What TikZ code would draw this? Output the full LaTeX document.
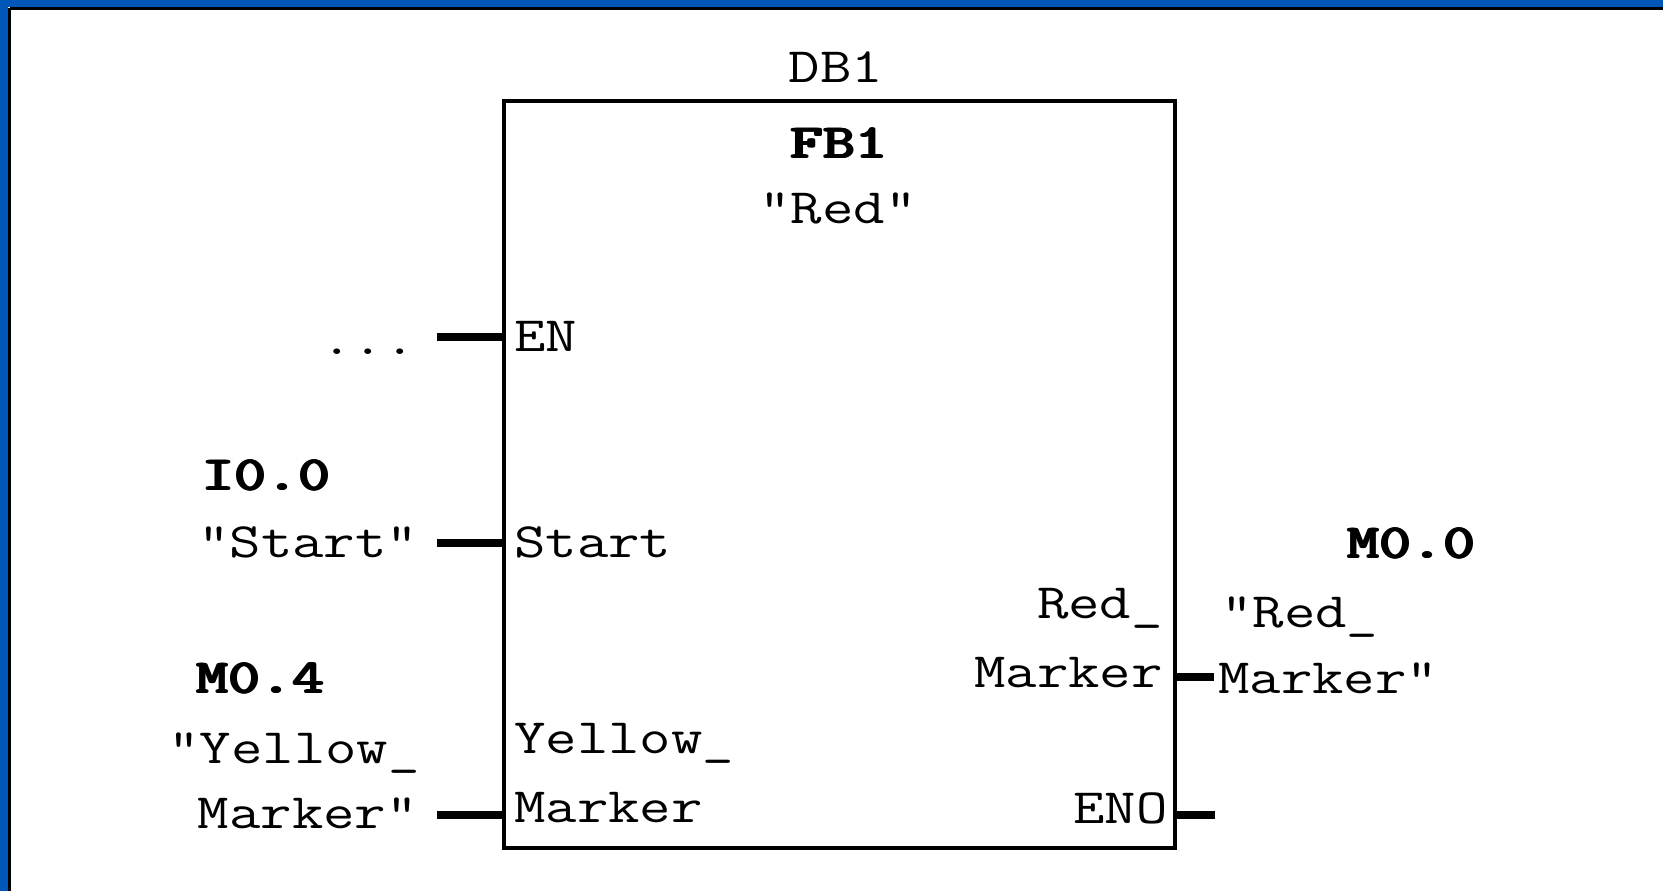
\documentclass[tikz,border=0pt]{standalone}
\usepackage{graphicx}
\definecolor{frameblue}{HTML}{0057B8}
\newcommand{\squash}[1]{\scalebox{1}[0.81]{#1}}
\newcommand{\heavy}[1]{\squash{\rlap{\hspace{1.3pt}#1}\rlap{\hspace{2.6pt}#1}#1}}
\begin{document}
\begin{tikzpicture}[x=1pt,y=-1pt,
  lbl/.style={inner sep=0pt, font=\fontsize{61}{70}\selectfont\ttfamily},
  blbl/.style={inner sep=0pt, font=\fontsize{61}{70}\selectfont\ttfamily\bfseries},
  pinline/.style={line width=7.5pt},
  fbbox/.style={draw, line width=3.5pt, inner sep=0pt}]
\useasboundingbox (0,0) rectangle (1663,891);
\fill[white] (0,0) rectangle (1663,891);
% slide frame (top and left)
\fill[frameblue] (0,0) rectangle (1663,7);
\fill[frameblue] (0,0) rectangle (8,891);
\draw[line width=3pt] (9.5,8.5) -- (1663,8.5);
\draw[line width=3pt] (9.5,8.5) -- (9.5,891);

% function block
\node[fbbox, minimum width=671pt, minimum height=747pt, anchor=north west] (fb) at (502,99) {};

% titles
\node[lbl, anchor=base] (db) at (836,82) {\squash{DB1}};
\node[blbl, anchor=base] (fbname) at (838,158) {\heavy{FB1}};
\node[lbl, anchor=base] (fbsym) at (838,223) {\squash{"Red"}};

% inner pin labels
\node[lbl, anchor=base west] (en) at (514,351) {\squash{EN}};
\node[lbl, anchor=base west] (startin) at (514,557) {\squash{Start}};
\node[lbl, anchor=base west] (yelin1) at (514,753) {\squash{Yellow\_}};
\node[lbl, anchor=base west] (yelin2) at (514,822) {\squash{Marker}};
\node[lbl, anchor=base east] (redin1) at (1163,618) {\squash{Red\_}};
\node[lbl, anchor=base east] (redin2) at (1163,687) {\squash{Marker}};
\node[lbl, anchor=base east] (eno) at (1168,823) {\squash{ENO}};

% outer operands
\node[lbl, anchor=base east] (dots) at (416,354) {\squash{...}};
\node[blbl, anchor=base west] (i00) at (201,490) {\heavy{I0.0}};
\node[lbl, anchor=base west] (startout) at (198,557) {\squash{"Start"}};
\node[blbl, anchor=base west] (m04) at (195,693) {\heavy{M0.4}};
\node[lbl, anchor=base east] (yelout1) at (420,763) {\squash{"Yellow\_}};
\node[lbl, anchor=base east] (yelout2) at (418,828) {\squash{Marker"}};
\node[blbl, anchor=base west] (m00) at (1346,558) {\heavy{M0.0}};
\node[lbl, anchor=base west] (redout1) at (1221,627) {\squash{"Red\_}};
\node[lbl, anchor=base west] (redout2) at (1218,693) {\squash{Marker"}};

% pin connectors
\coordinate (enL) at (437,337);
\coordinate (startL) at (437,543);
\coordinate (yelL) at (437,815);
\coordinate (redR) at (1214,677);
\coordinate (enoR) at (1215,815);
\draw[pinline] (enL) -- (enL -| fb.west);
\draw[pinline] (startL) -- (startL -| fb.west);
\draw[pinline] (yelL) -- (yelL -| fb.west);
\draw[pinline] (redR -| fb.east) -- (redR);
\draw[pinline] (enoR -| fb.east) -- (enoR);
\end{tikzpicture}
\end{document}
